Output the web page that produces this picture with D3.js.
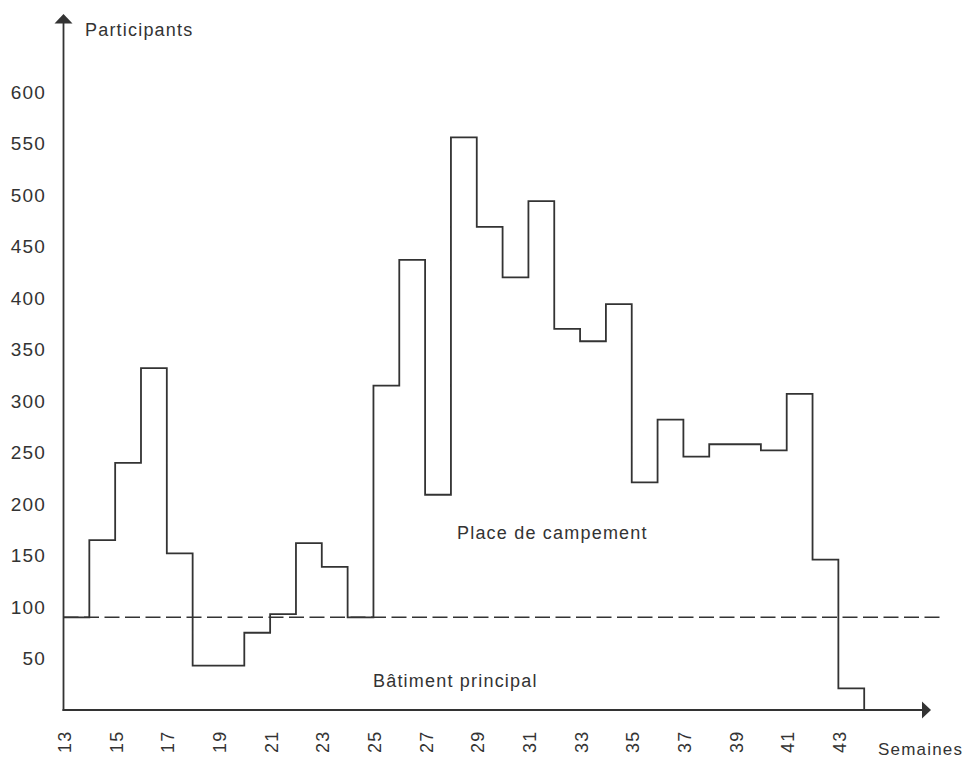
<!DOCTYPE html>
<html>
<head>
<meta charset="utf-8">
<script src="https://cdn.jsdelivr.net/npm/d3@7/dist/d3.min.js"></script>
<style>
  html, body { margin: 0; padding: 0; background: #ffffff; }
  svg { display: block; }
  text { font-family: "Liberation Sans", Arial, Helvetica, sans-serif; fill: #333333; }
</style>
</head>
<body>
<svg id="chart" width="964" height="758"></svg>
<script>
// ---- data ----
const weeks = [13,14,15,16,17,18,19,20,21,22,23,24,25,26,27,28,29,30,31,32,33,34,35,36,37,38,39,40,41,42,43];
const participants = [90,165,240,332,152,43,43,75,93,162,139,90,315,437,209,556,469,420,494,370,358,394,221,282,246,258,258,252,307,146,21];
const endWeek = 44;
const mainBuildingCapacity = 90;
const xTickLabels = [13,15,17,19,21,23,25,27,29,31,33,35,37,39,41,43];
const yTickLabels = [50,100,150,200,250,300,350,400,450,500,550,600];
const yAxisTitle = "Participants";
const xAxisTitle = "Semaines";
const upperLabel = "Place de campement";
const lowerLabel = "Bâtiment principal";

// ---- layout ----
const svg = d3.select("#chart");
const ink = "#333333";

const x = d3.scaleLinear().domain([13, 44]).range([63.5, 864.2]);
const y = d3.scaleLinear().domain([0, 600]).range([710, 92]);

const x0 = x(13), y0 = y(0);

// axes lines
svg.append("line")
  .attr("x1", x0).attr("x2", x0)
  .attr("y1", y0 + 1).attr("y2", 22)
  .attr("stroke", ink).attr("stroke-width", 1.8);
svg.append("line")
  .attr("x1", x0 - 1).attr("x2", 924)
  .attr("y1", y0).attr("y2", y0)
  .attr("stroke", ink).attr("stroke-width", 1.8);

// arrowheads
svg.append("path")
  .attr("d", `M${x0},14 L${x0 - 9},23.5 L${x0 + 9},23.5 Z`)
  .attr("fill", ink);
svg.append("path")
  .attr("d", `M931,${y0} L922,${y0 - 8.5} L922,${y0 + 8.5} Z`)
  .attr("fill", ink);

// y tick labels
svg.append("g").selectAll("text")
  .data(yTickLabels)
  .join("text")
  .attr("x", 46)
  .attr("y", d => y(d))
  .attr("dy", "0.36em")
  .attr("text-anchor", "end")
  .style("font-size", "19px")
  .style("letter-spacing", "1.2px")
  .text(d => d);

// x tick labels (rotated)
svg.append("g").selectAll("text")
  .data(xTickLabels)
  .join("text")
  .attr("transform", d => `translate(${x(d) + 1},753) rotate(-90)`)
  .attr("dy", "0.36em")
  .attr("text-anchor", "start")
  .style("font-size", "18px")
  .style("letter-spacing", "1.2px")
  .text(d => d);

// axis titles
svg.append("text")
  .attr("x", 85).attr("y", 35.5)
  .style("font-size", "18px")
  .style("letter-spacing", "1.2px")
  .text(yAxisTitle);
svg.append("text")
  .attr("x", 878).attr("y", 755)
  .style("font-size", "17px")
  .style("letter-spacing", "1.2px")
  .text(xAxisTitle);

// dashed capacity line
svg.append("line")
  .attr("x1", x0).attr("x2", 945)
  .attr("y1", y(mainBuildingCapacity)).attr("y2", y(mainBuildingCapacity))
  .attr("stroke", ink).attr("stroke-width", 1.6)
  .attr("stroke-dasharray", "15,5.5");

// step line
const pts = weeks.map((w, i) => [w, participants[i]]);
pts.push([endWeek, 0]);
const line = d3.line()
  .x(d => x(d[0]))
  .y(d => y(d[1]))
  .curve(d3.curveStepAfter);
svg.append("path")
  .datum(pts)
  .attr("d", line)
  .attr("fill", "none")
  .attr("stroke", ink)
  .attr("stroke-width", 1.8)
  .attr("stroke-linejoin", "miter");

// region labels
svg.append("text")
  .attr("x", 457).attr("y", 539)
  .style("font-size", "18px")
  .style("letter-spacing", "1.2px")
  .text(upperLabel);
svg.append("text")
  .attr("x", 373).attr("y", 687)
  .style("font-size", "18px")
  .style("letter-spacing", "1.2px")
  .text(lowerLabel);
</script>
</body>
</html>
